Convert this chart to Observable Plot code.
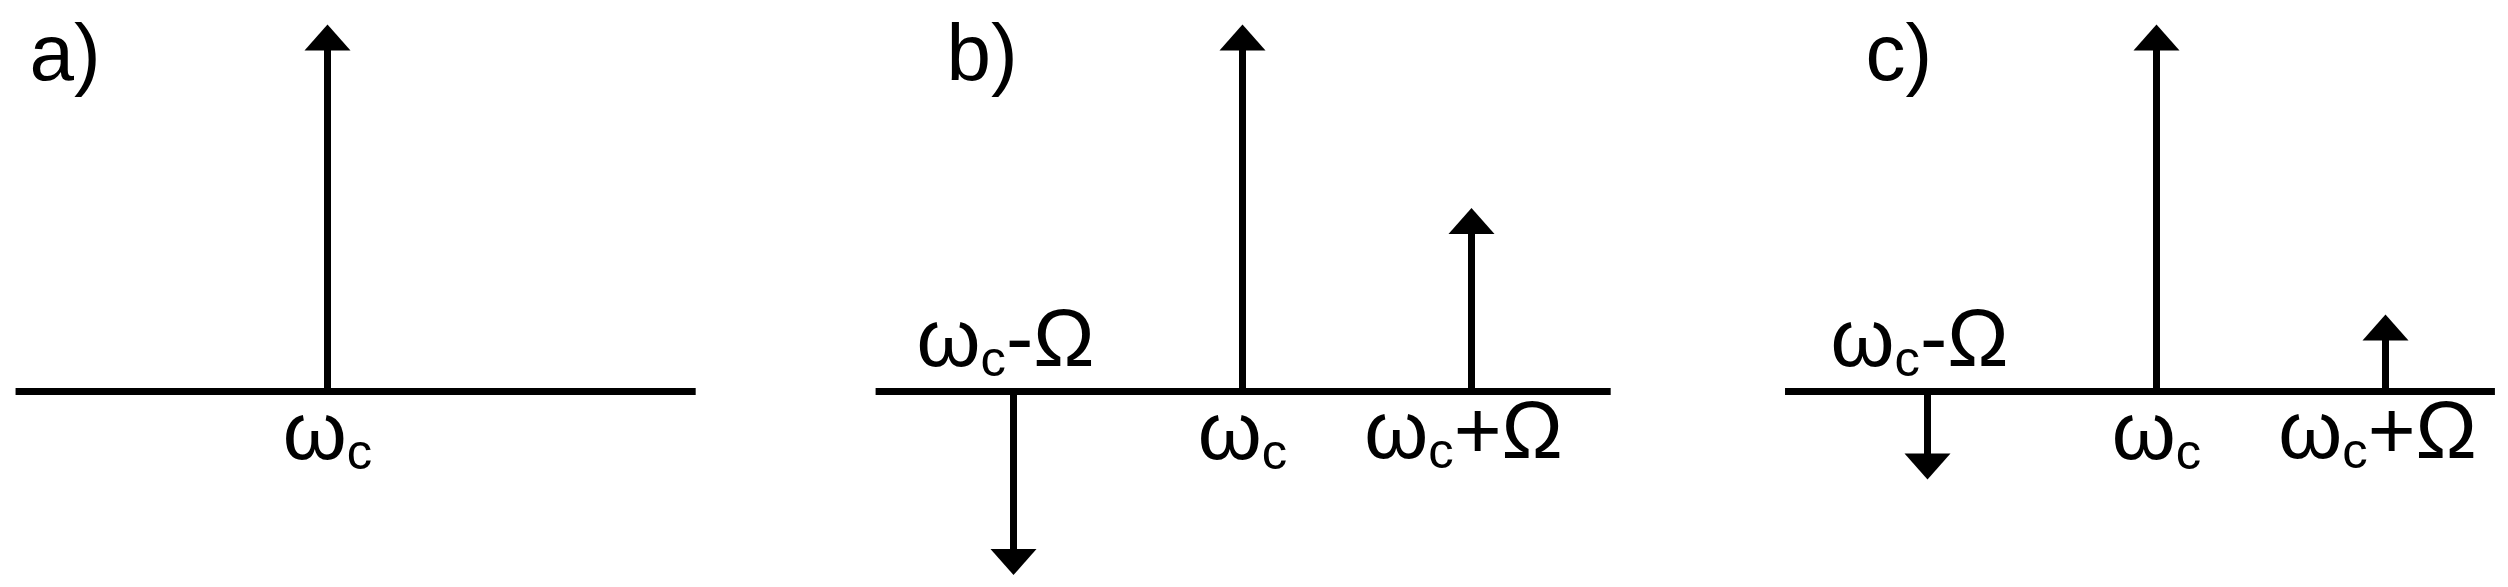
<!DOCTYPE html>
<html>
<head>
<meta charset="utf-8">
<script src="https://cdn.jsdelivr.net/npm/d3@7"></script>
<script src="https://cdn.jsdelivr.net/npm/@observablehq/plot@0.6"></script>
<style>
  html, body { margin: 0; padding: 0; background: #ffffff; }
  #chart { display: flex; flex-direction: row; width: 2508px; height: 587px; overflow: hidden; }
  #chart svg { display: block; overflow: visible; }
</style>
</head>
<body>
<div id="chart"></div>
<script>
// ---------------- data (frequency in units of Ω, relative to ωc; amplitude relative to carrier) ----------------
const panelLabels = ["a)", "b)", "c)"];
const carrierAmplitude = [1, 1, 1];
const lowerSidebandAmplitude = [null, -0.5, -0.24];   // line at ωc-Ω
const upperSidebandAmplitude = [null, 0.5, 0.21];     // line at ωc+Ω
const lineFrequencies = [-1, 0, 1];                   // ωc-Ω, ωc, ωc+Ω
const tickLabels = ["ω_c-Ω", "ω_c", "ω_c+Ω"];
const axisStart = [-1.36, -1.60, -1.62];
const axisEnd = [1.61, 1.61, 1.48];

// ---------------- layout ----------------
const layout = {
  height: 587,
  panelWidths: [915, 914, 679],
  panelLabelDx: [29, 31, 36],
  xRange: [327, 556],      // pixels for frequency 0 and 1
  yRange: [391, 24],       // pixels for amplitude 0 and 1
  font: "'Liberation Sans', Arial, Helvetica, sans-serif",
  labelSize: 82,
  panelLabelSize: 80,
  stroke: 7
};

const headW = 23, headH = 26;
const upHead = { draw(ctx) { ctx.moveTo(0, 0); ctx.lineTo(headW, headH); ctx.lineTo(-headW, headH); ctx.closePath(); } };
const downHead = { draw(ctx) { ctx.moveTo(0, 0); ctx.lineTo(headW, -headH); ctx.lineTo(-headW, -headH); ctx.closePath(); } };

const chart = document.getElementById("chart");

panelLabels.forEach((panel, i) => {
  const amps = [lowerSidebandAmplitude[i], carrierAmplitude[i], upperSidebandAmplitude[i]];
  const spikes = [];
  lineFrequencies.forEach((f, k) => {
    if (amps[k] != null) spikes.push({f, a: amps[k], label: tickLabels[k], zero: 0});
  });
  const up = spikes.filter(d => d.a > 0);
  const down = spikes.filter(d => d.a < 0);
  const carrier = up.filter(d => d.f === 0);
  const upSide = up.filter(d => d.f !== 0);
  const axis = [{x1: axisStart[i], x2: axisEnd[i], level: 0}];

  const svg = Plot.plot({
    width: layout.panelWidths[i],
    height: layout.height,
    margin: 0,
    x: {domain: [0, 1], range: layout.xRange, axis: null},
    y: {domain: [0, 1], range: layout.yRange, axis: null},
    style: {fontFamily: layout.font, background: "#ffffff", color: "#000000", overflow: "visible"},
    marks: [
      Plot.ruleY(axis, {x1: "x1", x2: "x2", y: "level", stroke: "#000", strokeWidth: layout.stroke}),
      Plot.ruleX(up, {x: "f", y1: "a", y2: "zero", stroke: "#000", strokeWidth: layout.stroke, insetTop: 12}),
      Plot.ruleX(down, {x: "f", y1: "zero", y2: "a", stroke: "#000", strokeWidth: layout.stroke, insetBottom: 12}),
      Plot.dot(up, {x: "f", y: "a", symbol: upHead, r: 10, fill: "#000", stroke: "none"}),
      Plot.dot(down, {x: "f", y: "a", symbol: downHead, r: 10, fill: "#000", stroke: "none"}),
      Plot.text(carrier, {x: "f", y: "zero", text: "label", dy: 67, lineAnchor: "bottom", textAnchor: "middle", fontSize: layout.labelSize, fill: "#000"}),
      Plot.text(upSide, {x: "f", y: "zero", text: "label", dx: -8, dy: 66, lineAnchor: "bottom", textAnchor: "middle", fontSize: layout.labelSize, fill: "#000"}),
      Plot.text(down, {x: "f", y: "zero", text: "label", dx: -8, dy: -26, lineAnchor: "bottom", textAnchor: "middle", fontSize: layout.labelSize, fill: "#000"}),
      Plot.text([panel], {text: d => d, frameAnchor: "top-left", textAnchor: "start", lineAnchor: "top", dx: layout.panelLabelDx[i], dy: 23, fontSize: layout.panelLabelSize, fill: "#000"})
    ]
  });

  // turn "_c" into a real subscript tspan
  svg.querySelectorAll("text").forEach(t => {
    const s = t.textContent;
    if (!s.includes("_")) return;
    const m = s.match(/^(.*?)_(\w)(.*)$/);
    if (!m) return;
    t.textContent = "";
    const ns = "http://www.w3.org/2000/svg";
    const a = document.createElementNS(ns, "tspan"); a.textContent = m[1]; t.appendChild(a);
    const b = document.createElementNS(ns, "tspan"); b.textContent = m[2];
    b.setAttribute("font-size", "0.62em"); b.setAttribute("dy", "10"); t.appendChild(b);
    if (m[3]) {
      const c = document.createElementNS(ns, "tspan"); c.textContent = m[3];
      c.setAttribute("dy", "-10"); t.appendChild(c);
    }
  });
  chart.appendChild(svg);
});
</script>
</body>
</html>
